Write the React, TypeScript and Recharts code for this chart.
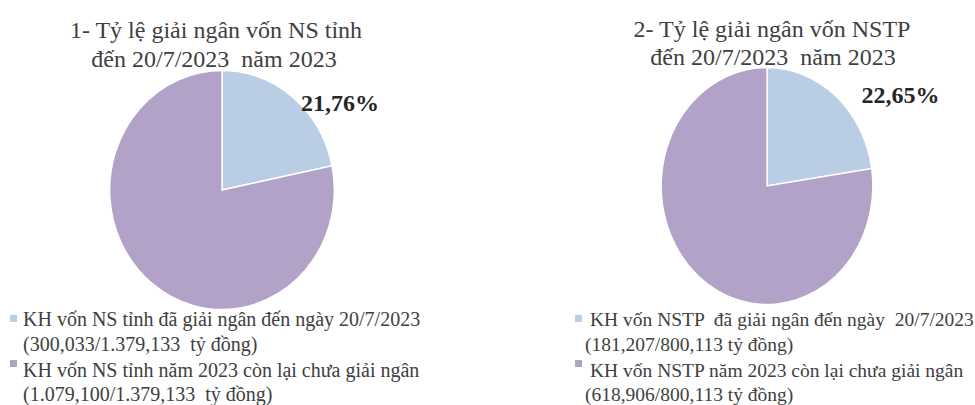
import React from "react";
import { PieChart, Pie, Cell } from "recharts";

const leftTitle = ["1- Tỷ lệ giải ngân vốn NS tỉnh", "đến 20/7/2023  năm 2023"];
const rightTitle = ["2- Tỷ lệ giải ngân vốn NSTP", "đến 20/7/2023  năm 2023"];

const leftCategories = [
  "KH vốn NS tỉnh đã giải ngân đến ngày 20/7/2023",
  "KH vốn NS tỉnh năm 2023 còn lại chưa giải ngân",
];
const leftSubLabels = ["(300,033/1.379,133  tỷ đồng)", "(1.079,100/1.379,133  tỷ đồng)"];
const leftValues = [300.033, 1079.1];

const rightCategories = [
  "KH vốn NSTP  đã giải ngân đến ngày  20/7/2023",
  "KH vốn NSTP năm 2023 còn lại chưa giải ngân",
];
const rightSubLabels = ["(181,207/800,113 tỷ đồng)", "(618,906/800,113 tỷ đồng)"];
const rightValues = [181.207, 618.906];

const sliceColors = ["#B9CDE5", "#B3A2C7"];

const FONT = '"Liberation Serif", "Times New Roman", serif';
const TEXT = "#404040";

const BOX_W = 420;
const BOX_H = 300;

type PieProps = {
  categories: string[];
  values: number[];
  cx: number;
  cy: number;
  r: number;
  sx: number;
  labelDx: number;
  labelDy: number;
};

function ScaledPie({ categories, values, cx, cy, r, sx, labelDx, labelDy }: PieProps) {
  const data = categories.map((name, i) => ({ name, value: values[i] }));
  const renderLabel = (p: any) => {
    if (p.index !== 0) return null;
    const txt = (p.percent * 100).toFixed(2).replace(".", ",") + "%";
    return (
      <text
        transform={`translate(${p.cx + labelDx / sx}, ${p.cy + labelDy}) scale(${1 / sx}, 1)`}
        x={0}
        y={0}
        textAnchor="middle"
        fill="#262626"
        fontFamily={FONT}
        fontWeight="bold"
        fontSize={24}
      >
        {txt}
      </text>
    );
  };
  return (
    <div
      style={{
        position: "absolute",
        left: cx - BOX_W / 2,
        top: cy - BOX_H / 2,
        width: BOX_W,
        height: BOX_H,
        transform: `scaleX(${sx})`,
        transformOrigin: `${BOX_W / 2}px ${BOX_H / 2}px`,
      }}
    >
      <PieChart width={BOX_W} height={BOX_H} margin={{ top: 0, right: 0, bottom: 0, left: 0 }}>
        <Pie
          data={data}
          dataKey="value"
          nameKey="name"
          cx={BOX_W / 2}
          cy={BOX_H / 2}
          outerRadius={r}
          startAngle={90}
          endAngle={-270}
          stroke="#ffffff"
          strokeWidth={1.5}
          isAnimationActive={false}
          label={renderLabel}
          labelLine={false}
        >
          {data.map((d, i) => (
            <Cell key={d.name} fill={sliceColors[i]} />
          ))}
        </Pie>
      </PieChart>
    </div>
  );
}

export default function App() {
  return (
    <div
      style={{
        position: "fixed",
        left: 0,
        top: 0,
        width: 975,
        height: 405,
        background: "#ffffff",
        overflow: "hidden",
      }}
    >
      <ScaledPie
        categories={leftCategories}
        values={leftValues}
        cx={221.7}
        cy={189.5}
        r={119.5}
        sx={0.94}
        labelDx={118}
        labelDy={-79.5}
      />
      <ScaledPie
        categories={rightCategories}
        values={rightValues}
        cx={766.5}
        cy={185.8}
        r={118.5}
        sx={0.893}
        labelDx={133.5}
        labelDy={-82.8}
      />
      <svg
        width={975}
        height={405}
        style={{ position: "absolute", left: 0, top: 0, pointerEvents: "none" }}
        fontFamily={FONT}
      >
        <g fill={TEXT} fontSize={24} textAnchor="middle">
          <text xmlSpace="preserve" x={216} y={38}>{leftTitle[0]}</text>
          <text xmlSpace="preserve" x={214} y={67}>{leftTitle[1]}</text>
          <text xmlSpace="preserve" x={772} y={37}>{rightTitle[0]}</text>
          <text xmlSpace="preserve" x={773} y={65}>{rightTitle[1]}</text>
        </g>
        <g fill={TEXT} fontSize={20}>
          <rect x={10} y={315} width={7} height={7} fill={sliceColors[0]} />
          <text xmlSpace="preserve" x={23} y={326}>{leftCategories[0]}</text>
          <text xmlSpace="preserve" x={23} y={351}>{leftSubLabels[0]}</text>
          <rect x={10} y={360} width={7} height={7} fill={sliceColors[1]} />
          <text xmlSpace="preserve" x={23} y={377}>{leftCategories[1]}</text>
          <text xmlSpace="preserve" x={23} y={401}>{leftSubLabels[1]}</text>
        </g>
        <g fill={TEXT} fontSize={19.5}>
          <rect x={575} y={315} width={7} height={7} fill={sliceColors[0]} />
          <text xmlSpace="preserve" x={590} y={326}>{rightCategories[0]}</text>
          <text xmlSpace="preserve" x={585} y={351}>{rightSubLabels[0]}</text>
          <rect x={575} y={360} width={7} height={7} fill={sliceColors[1]} />
          <text xmlSpace="preserve" x={590} y={377}>{rightCategories[1]}</text>
          <text xmlSpace="preserve" x={585} y={401}>{rightSubLabels[1]}</text>
        </g>
      </svg>
    </div>
  );
}
